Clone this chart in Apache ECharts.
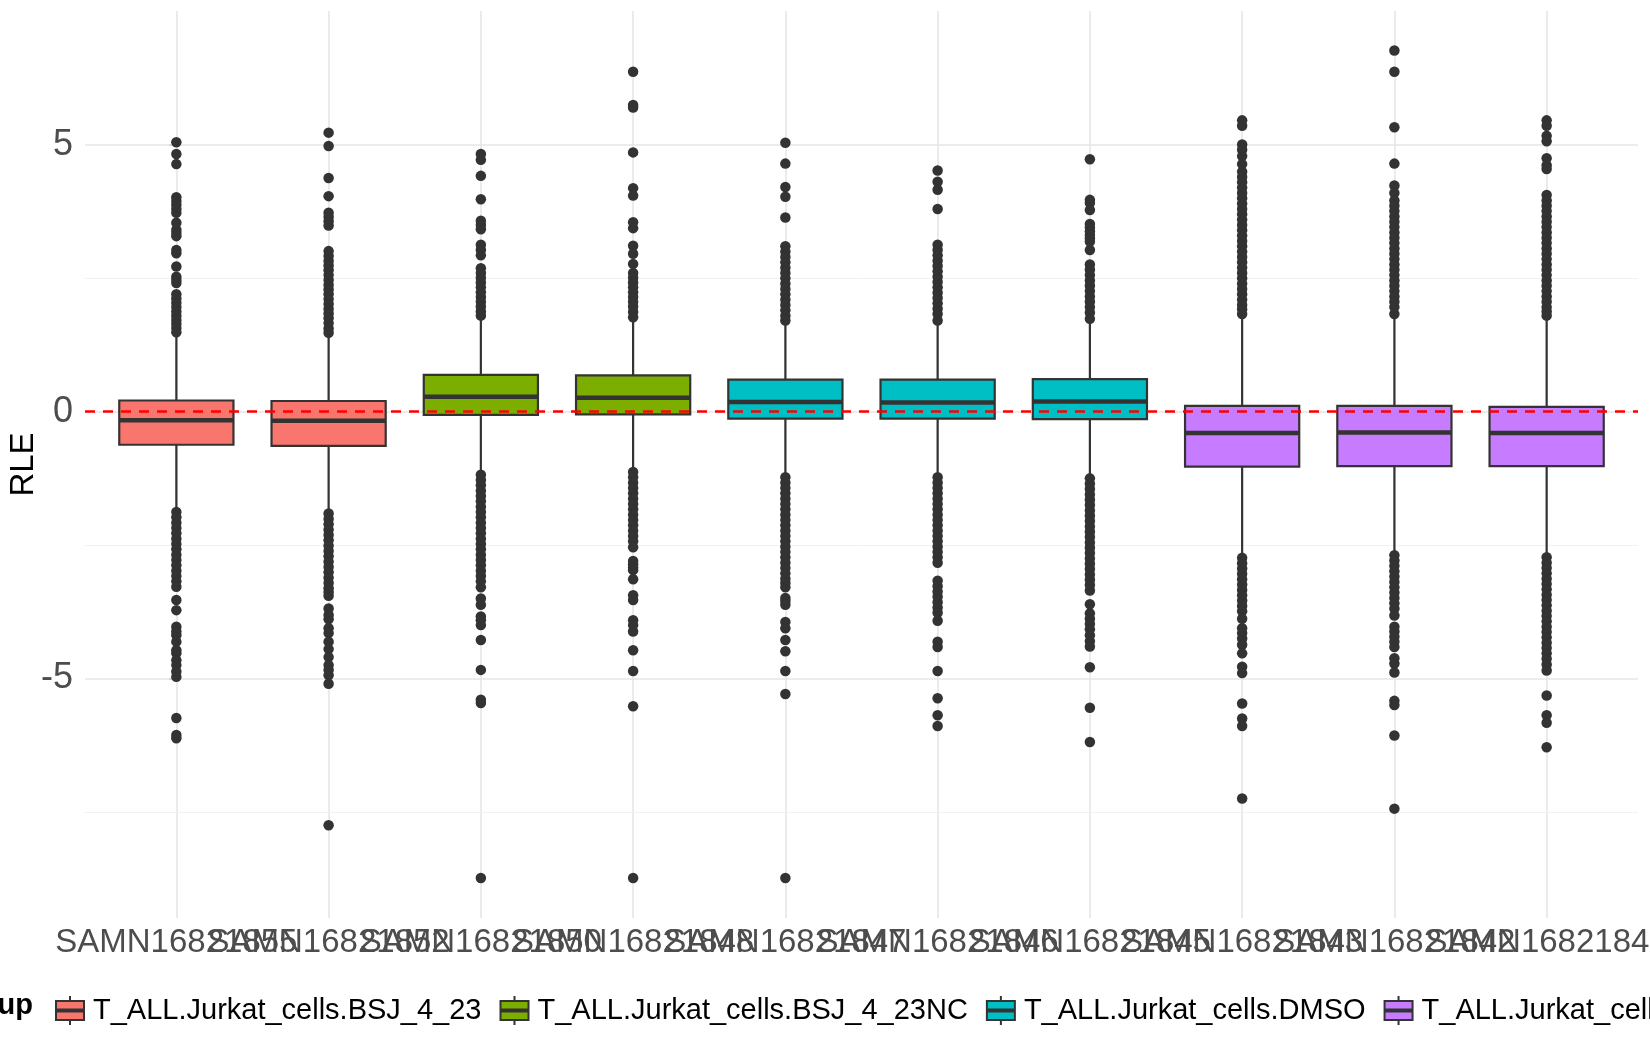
<!DOCTYPE html>
<html>
<head>
<meta charset="utf-8">
<title>RLE boxplot</title>
<script src="https://cdn.jsdelivr.net/npm/echarts@6/dist/echarts.min.js"></script>
<style>
	html, body { margin: 0; padding: 0; background: #fff; }
	#rle-chart { width: 1650px; height: 1050px; }
</style>
</head>
<body>
<div id="rle-chart"></div>
<script>
// samples on the x axis, in plot order
var samples = ['SAMN16821855', 'SAMN16821852', 'SAMN16821850', 'SAMN16821848', 'SAMN16821847',
	'SAMN16821846', 'SAMN16821845', 'SAMN16821843', 'SAMN16821842', 'SAMN16821841'];
var groups = ['T_ALL.Jurkat_cells.BSJ_4_23', 'T_ALL.Jurkat_cells.BSJ_4_23NC',
	'T_ALL.Jurkat_cells.DMSO', 'T_ALL.Jurkat_cells.DMSONC'];
var groupColors = ['#F8766D', '#7CAE00', '#00BFC4', '#C77CFF'];
var sampleGroup = [0, 0, 1, 1, 2, 2, 2, 3, 3, 3];

// box statistics per sample
var whiskerLow  = [-1.84, -1.87, -1.16, -1.11, -1.20, -1.20, -1.23, -2.72, -2.67, -2.71];
var q1          = [-0.62, -0.64, -0.06, -0.05, -0.13, -0.13, -0.14, -1.03, -1.02, -1.02];
var median      = [-0.16, -0.17,  0.28,  0.26,  0.18,  0.17,  0.19, -0.40, -0.39, -0.40];
var q3          = [ 0.21,  0.20,  0.69,  0.68,  0.60,  0.60,  0.61,  0.11,  0.11,  0.09];
var whiskerHigh = [ 1.45,  1.44,  1.77,  1.75,  1.68,  1.68,  1.71,  1.80,  1.80,  1.77];

// outliers per sample
var out1 = [5.05, 4.83, 4.64, 4.02, 3.95, 3.88, 3.80, 3.73, 3.54, 3.41, 3.35, 3.29, 3.03, 2.97, 2.72, 2.53, 2.47, 2.41,
	2.20, 2.12, 2.04, 1.96, 1.88, 1.80, 1.72, 1.65, 1.57, 1.49,
	-1.88, -1.98, -2.08, -2.18, -2.28, -2.38, -2.48, -2.58, -2.68, -2.78, -2.88, -2.98, -3.08, -3.18, -3.28,
	-3.53, -3.72, -4.03, -4.12, -4.19, -4.31, -4.47, -4.53, -4.66, -4.75, -4.87, -4.97, -5.74, -6.06, -6.12];
var out2 = [5.23, 4.98, 4.38, 4.04, 3.73, 3.65, 3.57, 3.49,
	3.01, 2.92, 2.83, 2.74, 2.65, 2.56, 2.47, 2.38, 2.29, 2.20, 2.11, 2.02, 1.93, 1.84, 1.75, 1.66, 1.56, 1.48,
	-1.91, -2.01, -2.11, -2.21, -2.31, -2.41, -2.51, -2.61, -2.71, -2.81, -2.91, -3.01, -3.11, -3.21, -3.31, -3.38, -3.45,
	-3.69, -3.81, -3.89, -4.06, -4.15, -4.31, -4.45, -4.60, -4.75, -4.84, -4.94, -5.10, -7.75];
var out3 = [4.83, 4.72, 4.42, 3.98, 3.58, 3.50, 3.42, 3.13, 3.03, 2.93,
	2.69, 2.60, 2.51, 2.42, 2.33, 2.24, 2.15, 2.06, 1.97, 1.88, 1.80,
	-1.18, -1.28, -1.38, -1.48, -1.58, -1.68, -1.78, -1.88, -1.98, -2.08, -2.18, -2.28, -2.38, -2.48, -2.58, -2.68,
	-2.78, -2.88, -2.98, -3.08, -3.18, -3.29,
	-3.50, -3.62, -3.84, -3.91, -4.00, -4.28, -4.84, -5.40, -5.46, -8.74];
var out4 = [6.37, 5.75, 5.70, 4.86, 4.19, 4.05, 3.55, 3.44, 3.11, 2.96, 2.77,
	2.60, 2.51, 2.42, 2.33, 2.24, 2.15, 2.06, 1.97, 1.87, 1.77,
	-1.13, -1.23, -1.33, -1.43, -1.53, -1.63, -1.73, -1.83, -1.93, -2.03, -2.13, -2.23, -2.33, -2.43, -2.54,
	-2.80, -2.86, -2.92, -2.97, -3.14, -3.44, -3.53, -3.91, -4.00, -4.12, -4.47, -4.86, -5.52, -8.74];
var out5 = [5.04, 4.65, 4.21, 4.03, 3.64,
	3.10, 3.00, 2.90, 2.80, 2.70, 2.60, 2.50, 2.40, 2.30, 2.20, 2.10, 2.00, 1.90, 1.80, 1.71,
	-1.23, -1.33, -1.43, -1.53, -1.63, -1.73, -1.83, -1.93, -2.03, -2.13, -2.23, -2.33, -2.43, -2.53, -2.63, -2.73,
	-2.83, -2.93, -3.03, -3.13, -3.21, -3.29,
	-3.49, -3.55, -3.62, -3.94, -4.06, -4.28, -4.49, -4.86, -5.29, -8.74];
var out6 = [4.52, 4.31, 4.16, 3.80,
	3.13, 3.03, 2.93, 2.83, 2.73, 2.63, 2.53, 2.43, 2.33, 2.23, 2.13, 2.03, 1.93, 1.83, 1.71,
	-1.23, -1.33, -1.43, -1.53, -1.63, -1.73, -1.83, -1.93, -2.03, -2.13, -2.23, -2.33, -2.43, -2.53, -2.63, -2.73, -2.83,
	-3.17, -3.27, -3.37, -3.47, -3.57, -3.67, -3.77, -3.92, -4.31, -4.41, -4.86, -5.37, -5.69, -5.89];
var out7 = [4.73, 3.97, 3.91, 3.78, 3.52, 3.45, 3.38, 3.31, 3.25, 3.19, 3.03,
	2.76, 2.66, 2.56, 2.46, 2.36, 2.26, 2.16, 2.06, 1.96, 1.86, 1.74,
	-1.25, -1.35, -1.45, -1.55, -1.65, -1.75, -1.85, -1.95, -2.05, -2.15, -2.25, -2.35, -2.45, -2.55, -2.65, -2.75,
	-2.85, -2.95, -3.05, -3.15, -3.25, -3.35,
	-3.61, -3.78, -3.88, -3.98, -4.08, -4.19, -4.30, -4.40, -4.79, -5.55, -6.19];
var out8 = [5.46, 5.36, 5.01, 4.91, 4.79, 4.64,
	4.50, 4.40, 4.30, 4.20, 4.10, 4.00, 3.90, 3.80, 3.70, 3.60, 3.50, 3.40, 3.30, 3.20, 3.10, 3.00, 2.90, 2.80,
	2.70, 2.60, 2.50, 2.40, 2.30, 2.20, 2.10, 2.00, 1.92, 1.83,
	-2.74, -2.84, -2.94, -3.04, -3.14, -3.24, -3.34, -3.44, -3.54, -3.64, -3.74, -3.88,
	-4.06, -4.15, -4.25, -4.37, -4.53, -4.78, -4.90, -5.47, -5.75, -5.89, -7.25];
var out9 = [6.77, 6.37, 5.33, 4.65, 4.24, 4.10,
	3.96, 3.86, 3.76, 3.66, 3.56, 3.46, 3.36, 3.26, 3.16, 3.06, 2.96, 2.86, 2.76, 2.66, 2.56, 2.46, 2.36, 2.26,
	2.16, 2.06, 1.96, 1.83,
	-2.69, -2.79, -2.89, -2.99, -3.09, -3.19, -3.29, -3.39, -3.49, -3.59, -3.69, -3.82,
	-4.03, -4.12, -4.22, -4.31, -4.41, -4.62, -4.72, -4.89, -5.42, -5.50, -6.07, -7.44];
var out10 = [5.46, 5.36, 5.17, 5.07, 4.75, 4.62, 4.55,
	4.06, 3.96, 3.86, 3.76, 3.66, 3.56, 3.46, 3.36, 3.26, 3.16, 3.06, 2.96, 2.86, 2.76, 2.66, 2.56, 2.46, 2.36,
	2.26, 2.16, 2.06, 1.96, 1.88, 1.80,
	-2.73, -2.83, -2.93, -3.03, -3.13, -3.23, -3.33, -3.43, -3.53, -3.63, -3.73, -3.83, -3.93, -4.03, -4.13,
	-4.23, -4.33, -4.43, -4.53, -4.63, -4.74, -4.85,
	-5.32, -5.69, -5.83, -6.29];
var outliers = [out1, out2, out3, out4, out5, out6, out7, out8, out9, out10];

// axis ticks
var yTicks = [-5, 0, 5];
var yMinorTicks = [-7.5, -2.5, 2.5];
var xTicks = [0, 1, 2, 3, 4, 5, 6, 7, 8, 9];

var FONT = '"Liberation Sans", Arial, Helvetica, sans-serif';
var rle_chart = echarts.init(document.getElementById('rle-chart'));

// panel: x from -0.6 to 9.6 (ggplot discrete expansion)
var PANEL_LEFT = 85, PANEL_RIGHT = 12, PANEL_TOP = 11, PANEL_BOTTOM = 132;
var panelWidth = 1650 - PANEL_LEFT - PANEL_RIGHT;
var unit = panelWidth / 10.2;
// label grid: category bands centred on the same x positions
var labelLeft = PANEL_LEFT + 0.1 * unit;
var labelRight = PANEL_RIGHT + 0.1 * unit;

function renderBox(params, api) {
	var x = api.value(0);
	var lo = api.coord([x, api.value(1)]);
	var b1 = api.coord([x, api.value(2)]);
	var md = api.coord([x, api.value(3)]);
	var b3 = api.coord([x, api.value(4)]);
	var hi = api.coord([x, api.value(5)]);
	var half = api.size([0.75, 0])[0] / 2;
	var line = { stroke: '#333333', lineWidth: 2.2 };
	return {
		type: 'group',
		children: [
			{ type: 'line', shape: { x1: lo[0], y1: lo[1], x2: b1[0], y2: b1[1] }, style: line },
			{ type: 'line', shape: { x1: hi[0], y1: hi[1], x2: b3[0], y2: b3[1] }, style: line },
			{ type: 'rect', shape: { x: b3[0] - half, y: b3[1], width: half * 2, height: b1[1] - b3[1] },
				style: { fill: api.visual('color'), stroke: '#333333', lineWidth: 2.2 } },
			{ type: 'line', shape: { x1: md[0] - half, y1: md[1], x2: md[0] + half, y2: md[1] },
				style: { stroke: '#333333', lineWidth: 4.5 } }
		]
	};
}

var series = [];
groups.forEach(function (g, gi) {
	var rows = [];
	for (var i = 0; i < samples.length; i++) {
		if (sampleGroup[i] === gi) {
			rows.push([i, whiskerLow[i], q1[i], median[i], q3[i], whiskerHigh[i]]);
		}
	}
	var s = {
		name: g,
		type: 'custom',
		renderItem: renderBox,
		itemStyle: { color: groupColors[gi], borderColor: '#333333', borderWidth: 2 },
		encode: { x: 0, y: [1, 2, 3, 4, 5] },
		data: rows,
		z: 2
	};
	if (gi === 0) {
		// minor horizontal grid lines, under the boxes
		s.markLine = {
			silent: true,
			symbol: 'none',
			z: 1,
			label: { show: false },
			lineStyle: { color: '#f2f2f2', width: 1, type: 'solid' },
			data: yMinorTicks.map(function (v) { return { yAxis: v }; })
		};
	}
	series.push(s);
});

var points = [];
outliers.forEach(function (list, i) {
	list.forEach(function (v) { points.push([i, v]); });
});
series.push({
	name: 'outliers',
	type: 'scatter',
	symbolSize: 10.5,
	itemStyle: { color: '#333333', opacity: 1 },
	data: points,
	z: 3,
	markLine: {
		silent: true,
		symbol: 'none',
		z: 10,
		label: { show: false },
		lineStyle: { color: '#ff0000', width: 2.5, type: [10, 8] },
		data: [{ yAxis: 0 }]
	}
});

var option = {
	animation: false,
	backgroundColor: '#ffffff',
	textStyle: { fontFamily: FONT },
	grid: [{
		left: PANEL_LEFT,
		right: PANEL_RIGHT,
		top: PANEL_TOP,
		bottom: PANEL_BOTTOM,
		outerBoundsMode: 'none'
	}, {
		left: labelLeft,
		right: labelRight,
		top: PANEL_TOP,
		bottom: PANEL_BOTTOM,
		outerBoundsMode: 'none'
	}],
	xAxis: [{
		type: 'value',
		gridIndex: 0,
		min: -0.6,
		max: 9.6,
		axisLine: { show: false },
		axisTick: {
			show: true,
			customValues: xTicks,
			length: 7,
			lineStyle: { color: '#cccccc', width: 1.5 }
		},
		axisLabel: { show: false, customValues: xTicks },
		splitLine: { show: true, lineStyle: { color: '#e6e6e6', width: 1.6 } }
	}, {
		// sample names, all shown even where they overlap
		type: 'category',
		gridIndex: 1,
		data: samples,
		boundaryGap: true,
		axisLine: { show: false },
		axisTick: { show: false },
		splitLine: { show: false },
		axisLabel: {
			interval: 0,
			margin: 8,
			color: '#4d4d4d',
			fontSize: 33,
			fontFamily: FONT
		}
	}],
	yAxis: [{
		type: 'value',
		gridIndex: 0,
		min: -9.49,
		max: 7.51,
		name: 'RLE',
		nameLocation: 'middle',
		nameRotate: 90,
		nameGap: 45,
		nameMoveOverlap: false,
		nameTextStyle: { color: '#000000', fontSize: 33, fontFamily: FONT },
		axisLine: { show: false },
		axisTick: {
			show: true,
			customValues: yTicks,
			length: 7,
			lineStyle: { color: '#cccccc', width: 1.5 }
		},
		axisLabel: {
			customValues: yTicks,
			margin: 12,
			color: '#4d4d4d',
			fontSize: 36,
			fontFamily: FONT
		},
		splitLine: { show: true, lineStyle: { color: '#e6e6e6', width: 1.6 } }
	}, {
		type: 'value',
		gridIndex: 1,
		min: -9.49,
		max: 7.51,
		show: false
	}],
	legend: {
		data: groups,
		orient: 'horizontal',
		left: 50,
		top: 990,
		width: 3000,
		itemWidth: 28,
		itemHeight: 29,
		itemGap: 18,
		icon: 'path://M14,0L14,5M0,5L28,5L28,24L0,24ZM0,13.5L28,13.5L28,15.5L0,15.5ZM14,24L14,29',
		itemStyle: { borderColor: '#333333', borderWidth: 2 },
		textStyle: { color: '#000000', fontSize: 29, fontFamily: FONT, padding: [0, 0, 0, 4] }
	},
	graphic: [{
		type: 'text',
		x: 33,
		y: 1006,
		style: {
			text: 'Group',
			align: 'right',
			verticalAlign: 'middle',
			font: 'bold 29px ' + FONT,
			fill: '#000000'
		}
	}],
	series: series
};

rle_chart.setOption(option);
</script>
</body>
</html>
